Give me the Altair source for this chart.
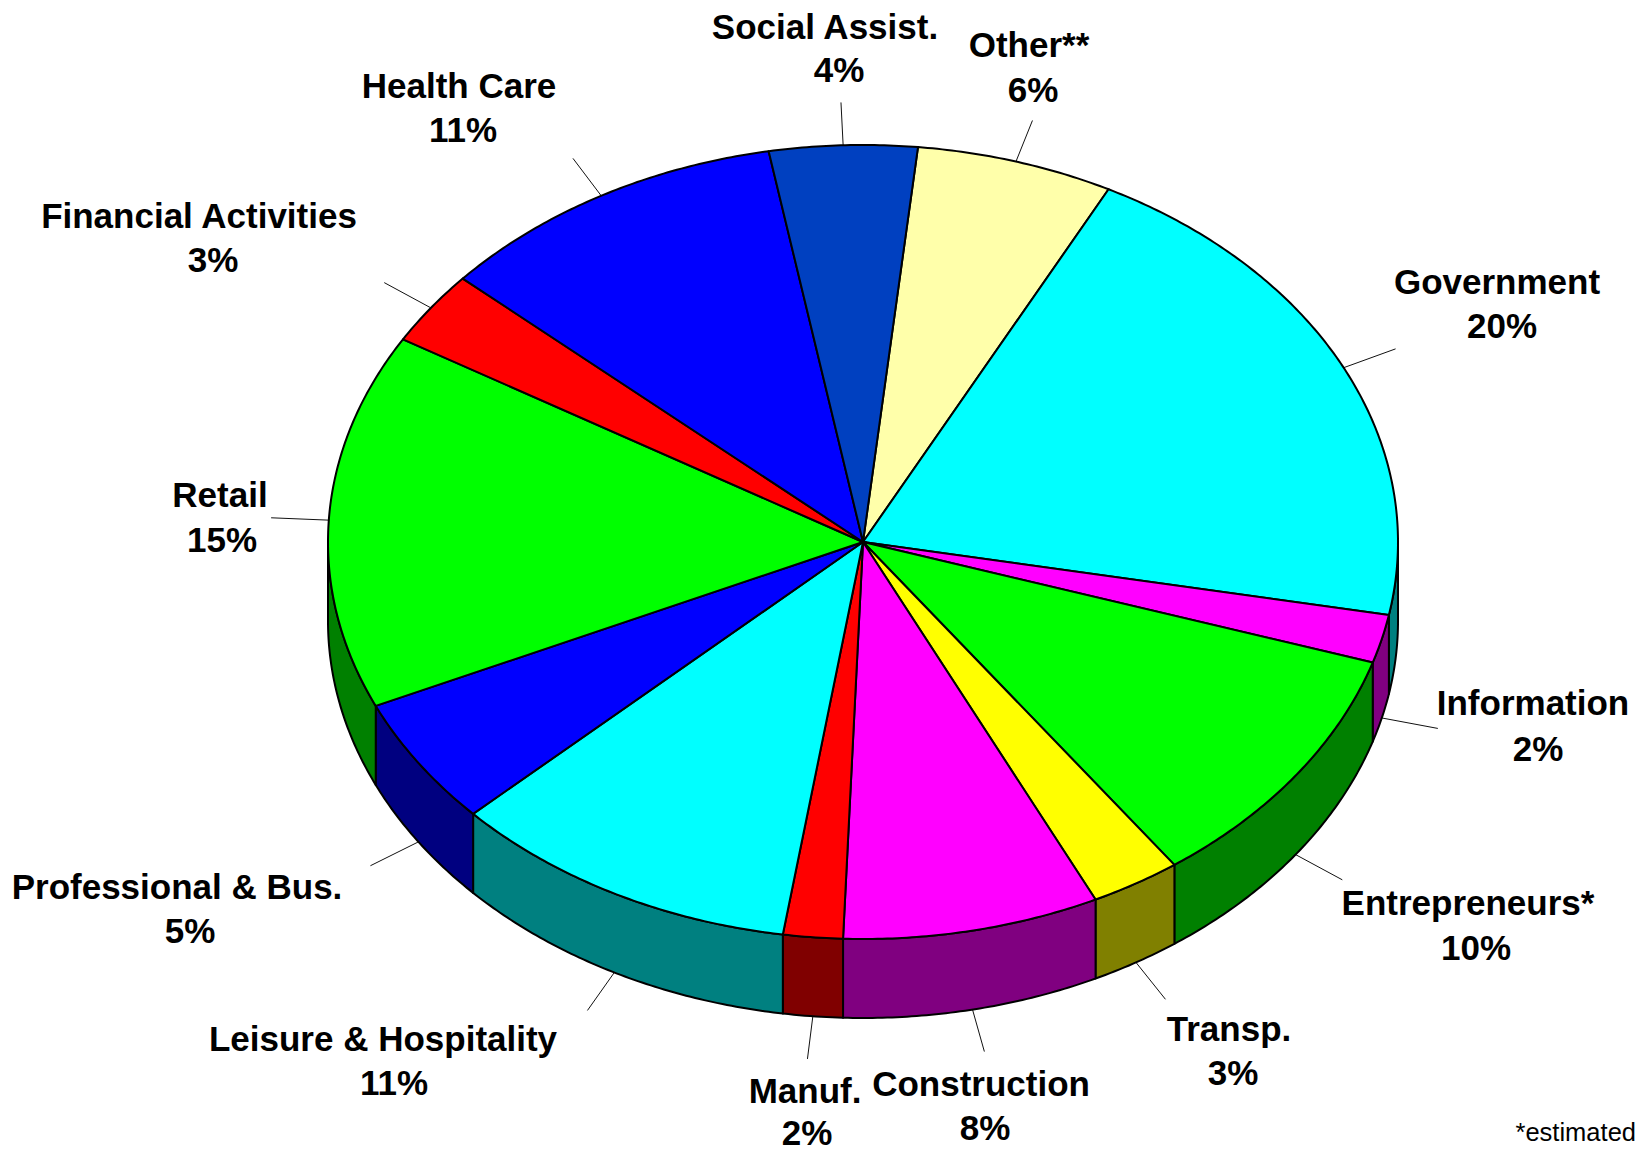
import numpy as np
import pandas as pd
import altair as alt

names = ["Other**", "Government", "Information", "Entrepreneurs*", "Transp.", "Construction", "Manuf.",
         "Leisure & Hospitality", "Professional & Bus.", "Retail", "Financial Activities", "Health Care", "Social Assist."]
pct_labels = ["6%", "20%", "2%", "10%", "3%", "8%", "2%", "11%", "5%", "15%", "3%", "11%", "4%"]
shares = [5.95, 20.35, 1.97, 10.2, 2.73, 7.75, 1.8, 10.6, 5.23, 15.3, 3.02, 10.63, 4.46]
colors = ["#FFFFAA", "#00FFFF", "#FF00FF", "#00FF00", "#FFFF00", "#FF00FF", "#FF0000",
          "#00FFFF", "#0000FF", "#00FF00", "#FF0000", "#0000FF", "#0040C0"]
side_colors = ["#808055", "#008080", "#800080", "#008000", "#808000", "#800080", "#800000",
               "#008080", "#000080", "#008000", "#800000", "#000080", "#002060"]

# label anchors in reference pixels of the 1644x1151 picture
name_x = [1029, 1497, 1533, 1468, 1229, 981, 805, 383, 177, 220, 199, 459, 825]
name_y = [45, 282, 703, 903, 1029, 1084, 1091, 1039, 887, 495, 216, 86, 27]
pct_x = [1033, 1502, 1538, 1476, 1233, 985, 807, 394, 190, 222, 213, 463, 839]
pct_y = [90, 326, 749, 948, 1073, 1128, 1133, 1083, 931, 540, 260, 130, 70]

START_DEG = 5.9
W, H = 1628, 1143
CX, CY = 863 - 8, 542 - 8
RX, RY = 535, 397
DEPTH = 79 / RY
LEAD = 1.108
FONT = "Liberation Sans"

edges = START_DEG + np.concatenate([[0], np.cumsum(shares)]) * 360 / sum(shares)

top, side, lead = [], [], []
for k, name in enumerate(names):
    a0, a1 = edges[k], edges[k + 1]
    arc = np.radians(np.linspace(a0, a1, max(int(a1 - a0) * 2, 2)))
    pts = [(0.0, 0.0)] + [(np.sin(t), np.cos(t)) for t in arc] + [(0.0, 0.0)]
    for i, (px, py) in enumerate(pts):
        top.append(dict(s=name, i=i, x=px, y=py, c=colors[k]))

    ranges = [(max(a0, 90), min(a1, 270)), (max(a0 - 360, 90), min(a1 - 360, 270))]
    for lo, hi in ranges:
        if hi > lo:
            t = np.radians(np.linspace(lo, hi, max(int(hi - lo) * 2, 2)))
            upper = [(np.sin(v), np.cos(v)) for v in t]
            lower = [(np.sin(v), np.cos(v) - DEPTH) for v in t[::-1]]
            ring = upper + lower + [upper[0]]
            for i, (px, py) in enumerate(ring):
                side.append(dict(s=name, i=i, x=px, y=py, c=side_colors[k]))

    mid = np.radians((a0 + a1) / 2)
    drop = DEPTH if np.cos(mid) < 0 else 0
    sx, cy_ = np.sin(mid), np.cos(mid)
    lead.append(dict(s=name, i=0, x=sx, y=cy_ - drop))
    lead.append(dict(s=name, i=1, x=sx * LEAD, y=cy_ * LEAD - drop))


def ux(p):
    return (p - 8 - CX) / RX


def uy(p):
    return (CY - (p - 8)) / RY


labels = pd.DataFrame({
    "name": names, "pct": pct_labels,
    "nx": [ux(v) for v in name_x], "ny": [uy(v) for v in name_y],
    "px": [ux(v) for v in pct_x], "py": [uy(v) for v in pct_y],
})
notes = pd.DataFrame({"t": ["*estimated"], "x": [ux(1636)], "y": [uy(1133)]})

xs = alt.Scale(domain=[-CX / RX, (W - CX) / RX], nice=False, zero=False)
ys = alt.Scale(domain=[(CY - H) / RY, CY / RY], nice=False, zero=False)
X = lambda f: alt.X(f, type="quantitative", scale=xs, axis=None)
Y = lambda f: alt.Y(f, type="quantitative", scale=ys, axis=None)

def polys(rows):
    return alt.Chart(pd.DataFrame(rows)).mark_line(
        filled=True, stroke="#000000", strokeWidth=2, strokeJoin="round"
    ).encode(x=X("x"), y=Y("y"), detail="s:N", order="i:Q", fill=alt.Fill("c:N", scale=None))

leaders = alt.Chart(pd.DataFrame(lead)).mark_line(stroke="#111111", strokeWidth=1).encode(
    x=X("x"), y=Y("y"), detail="s:N", order="i:Q")

text_style = dict(font=FONT, fontWeight="bold", fontSize=35, color="#000000", align="center", baseline="middle", dy=1)
t1 = alt.Chart(labels).mark_text(**text_style).encode(x=X("nx"), y=Y("ny"), text="name:N")
t2 = alt.Chart(labels).mark_text(**text_style).encode(x=X("px"), y=Y("py"), text="pct:N")
t3 = alt.Chart(notes).mark_text(font=FONT, fontSize=25.5, color="#000000", align="right", baseline="middle").encode(
    x=X("x"), y=Y("y"), text="t:N")

chart = alt.layer(leaders, polys(side), polys(top), t1, t2, t3).properties(
    width=W, height=H, padding=0, autosize=alt.AutoSizeParams(type="none"), background="#FFFFFF"
).configure_view(stroke=None)

chart.save("out.html", embed_options={"renderer": "svg", "actions": False})
